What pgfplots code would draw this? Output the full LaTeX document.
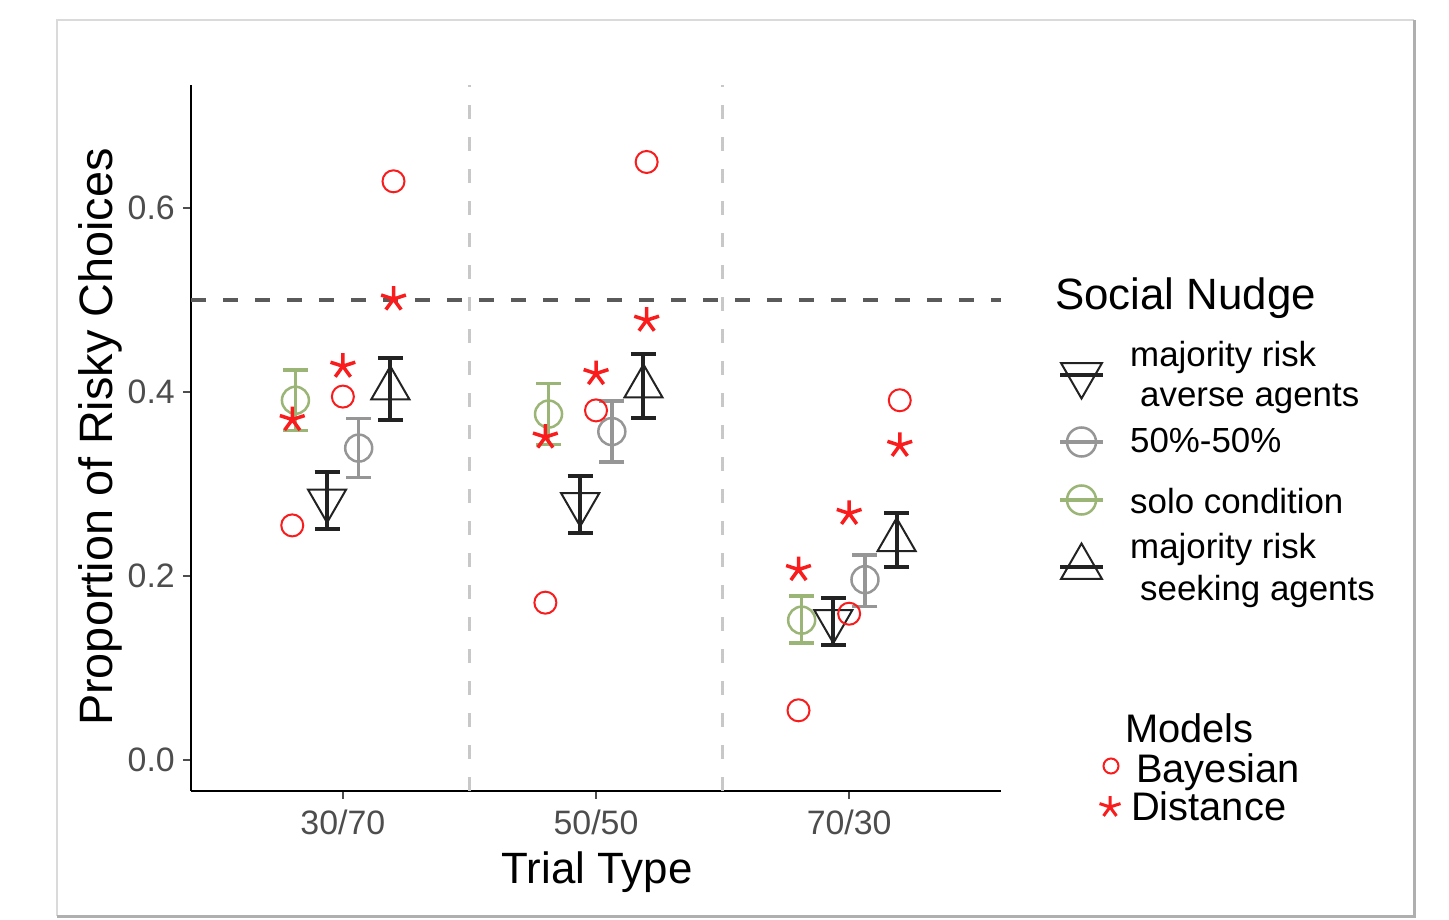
\documentclass[border=0pt]{standalone}
\usepackage{pgfplots}
\pgfplotsset{compat=1.18}
\usepackage{pgfplotstable}
\usepackage{fontspec}
\setmainfont{Liberation Sans}
\definecolor{cgreen}{RGB}{155,181,118}
\definecolor{cgray}{RGB}{150,150,150}
\definecolor{cblack}{RGB}{34,34,34}
\definecolor{cred}{RGB}{250,28,28}
\definecolor{tickgray}{RGB}{77,77,77}
\definecolor{hline}{RGB}{90,90,90}
\definecolor{vline}{RGB}{200,200,200}
\definecolor{framegray}{RGB}{218,218,218}
\definecolor{frameshadow}{RGB}{175,175,175}

% Social nudge series: x y err+ err-
\pgfplotstableread{
x y ep em
0.8125 0.391 0.033 0.033
1.8125 0.376 0.033 0.033
2.8125 0.152 0.026 0.025
}\solo
\pgfplotstableread{
x y ep em
0.9375 0.282 0.031 0.031
1.9375 0.278 0.031 0.031
2.9375 0.151 0.025 0.026
}\averse
\pgfplotstableread{
x y ep em
1.0625 0.339 0.032 0.032
2.0625 0.357 0.033 0.033
3.0625 0.196 0.027 0.029
}\fifty
\pgfplotstableread{
x y ep em
1.1875 0.404 0.033 0.034
2.1875 0.406 0.035 0.034
3.1875 0.239 0.030 0.029
}\seeking
% Models
\pgfplotstableread{
x y
0.8 0.255
1.0 0.395
1.2 0.629
1.8 0.171
2.0 0.380
2.2 0.650
2.8 0.054
3.0 0.159
3.2 0.391
}\bayes
\pgfplotstableread{
x y
0.8 0.370
1.0 0.428
1.2 0.501
1.8 0.351
2.0 0.420
2.2 0.478
2.8 0.207
3.0 0.268
3.2 0.342
}\dist

\begin{document}
\begin{tikzpicture}[x=1bp,y=1bp]
\useasboundingbox (0,0) rectangle (1449,919);
\fill[white] (0,0) rectangle (1449,919);
\draw[framegray, line width=2bp] (57,3) -- (57,899) -- (1414,899);
\draw[frameshadow, line width=3bp] (57,3) -- (1414,3) -- (1414,899);

\begin{axis}[
  at={(191bp,128bp)}, anchor=south west,
  scale only axis, width=810bp, height=706bp,
  xmin=0.4, xmax=3.6, ymin=-0.0337, ymax=0.7337,
  axis x line*=bottom, axis y line*=left,
  axis line style={line width=2.8bp, black},
  xtick={1,2,3}, xticklabels={30/70,50/50,70/30},
  ytick={0,0.2,0.4,0.6}, yticklabels={0.0,0.2,0.4,0.6},
  tick align=outside, major tick length=8bp,
  tick style={line width=2.5bp, color=tickgray},
  /pgf/number format/assume math mode=true,
  ticklabel style={font=\fontsize{34}{40}\selectfont, text=tickgray, inner sep=0pt},
  xticklabel style={yshift=-11bp},
  yticklabel style={xshift=-8bp},
  clip=false,
]
\addplot[vline, line width=2.5bp, dash pattern=on 14bp off 18bp] coordinates {(1.5,-0.0337) (1.5,0.7337)};
\addplot[vline, line width=2.5bp, dash pattern=on 14bp off 18bp] coordinates {(2.5,-0.0337) (2.5,0.7337)};
\addplot[hline, line width=3.5bp, dash pattern=on 15bp off 17bp] coordinates {(0.4,0.5) (3.6,0.5)};

\addplot[cgreen, only marks, mark=o, mark size=13.5bp, mark options={line width=2.5bp},
  error bars/.cd, y dir=both, y explicit, error mark=|,
  error bar style={line width=3.5bp},
  error mark options={line width=3.5bp, mark size=12.5bp}]
  table[x=x, y=y, y error plus=ep, y error minus=em]{\solo};
\addplot[cblack, only marks, mark=triangle, mark size=22bp, mark options={rotate=180, line width=2bp},
  error bars/.cd, y dir=both, y explicit, error mark=|,
  error bar style={line width=4bp},
  error mark options={line width=4bp, mark size=12.5bp}]
  table[x=x, y=y, y error plus=ep, y error minus=em]{\averse};
\addplot[cgray, only marks, mark=o, mark size=13.5bp, mark options={line width=2.5bp},
  error bars/.cd, y dir=both, y explicit, error mark=|,
  error bar style={line width=3.5bp},
  error mark options={line width=3.5bp, mark size=12.5bp}]
  table[x=x, y=y, y error plus=ep, y error minus=em]{\fifty};
\addplot[cblack, only marks, mark=triangle, mark size=22bp, mark options={line width=2bp},
  error bars/.cd, y dir=both, y explicit, error mark=|,
  error bar style={line width=4bp},
  error mark options={line width=4bp, mark size=12.5bp}]
  table[x=x, y=y, y error plus=ep, y error minus=em]{\seeking};

\addplot[cred, only marks, mark=o, mark size=11bp, mark options={line width=2bp}] table[x=x,y=y]{\bayes};
\addplot[cred, only marks, mark=star, mark size=13bp, mark options={line width=3.5bp}] table[x=x,y=y]{\dist};
\end{axis}

% overlay axis in pixel coordinates for legends and titles
\begin{axis}[
  at={(0,0)}, anchor=south west,
  scale only axis, width=1449bp, height=919bp,
  xmin=0, xmax=1449, ymin=0, ymax=919, y dir=reverse,
  hide axis, clip=false,
]
\addplot[cblack, line width=4bp] coordinates {(1060,375) (1103,375)};
\addplot[cblack, only marks, mark=triangle, mark size=23.5bp, mark options={rotate=180, line width=2bp}] coordinates {(1081.5,375)};
\addplot[cgray, line width=4bp] coordinates {(1060,442) (1103,442)};
\addplot[cgray, only marks, mark=o, mark size=14.5bp, mark options={line width=2.5bp}] coordinates {(1081.5,442)};
\addplot[cgreen, line width=4bp] coordinates {(1060,500) (1103,500)};
\addplot[cgreen, only marks, mark=o, mark size=14.5bp, mark options={line width=2.5bp}] coordinates {(1081.5,500)};
\addplot[cblack, line width=4bp] coordinates {(1060,567) (1103,567)};
\addplot[cblack, only marks, mark=triangle, mark size=23.5bp, mark options={line width=2bp}] coordinates {(1081.5,567)};

\addplot[cred, only marks, mark=o, mark size=7.5bp, mark options={line width=2bp}] coordinates {(1111,766)};
\addplot[cred, only marks, mark=star, mark size=11bp, mark options={line width=3bp}] coordinates {(1110,807)};

\node[anchor=base west, inner sep=0pt, font=\fontsize{44}{50}\selectfont] at (axis cs:1055,310) {Social Nudge};
\node[anchor=base west, inner sep=0pt, font=\fontsize{35}{40}\selectfont] at (axis cs:1130,367) {majority risk};
\node[anchor=base west, inner sep=0pt, font=\fontsize{35}{40}\selectfont] at (axis cs:1140,407) {averse agents};
\node[anchor=base west, inner sep=0pt, font=\fontsize{35}{40}\selectfont] at (axis cs:1130,453) {50\%-50\%};
\node[anchor=base west, inner sep=0pt, font=\fontsize{35}{40}\selectfont] at (axis cs:1130,513) {solo condition};
\node[anchor=base west, inner sep=0pt, font=\fontsize{35}{40}\selectfont] at (axis cs:1130,558) {majority risk};
\node[anchor=base west, inner sep=0pt, font=\fontsize{35}{40}\selectfont] at (axis cs:1140,600) {seeking agents};

\node[anchor=base west, inner sep=0pt, font=\fontsize{40}{46}\selectfont] at (axis cs:1125,742) {Models};
\node[anchor=base west, inner sep=0pt, font=\fontsize{40}{46}\selectfont] at (axis cs:1136,782) {Bayesian};
\node[anchor=base west, inner sep=0pt, font=\fontsize{40}{46}\selectfont] at (axis cs:1131,820) {Distance};

\node[anchor=base, inner sep=0pt, font=\fontsize{44}{50}\selectfont] at (axis cs:597,883) {Trial Type};
\node[anchor=base, rotate=90, inner sep=0pt, font=\fontsize{47}{52}\selectfont] at (axis cs:112,437) {Proportion of Risky Choices};
\end{axis}
\end{tikzpicture}
\end{document}
